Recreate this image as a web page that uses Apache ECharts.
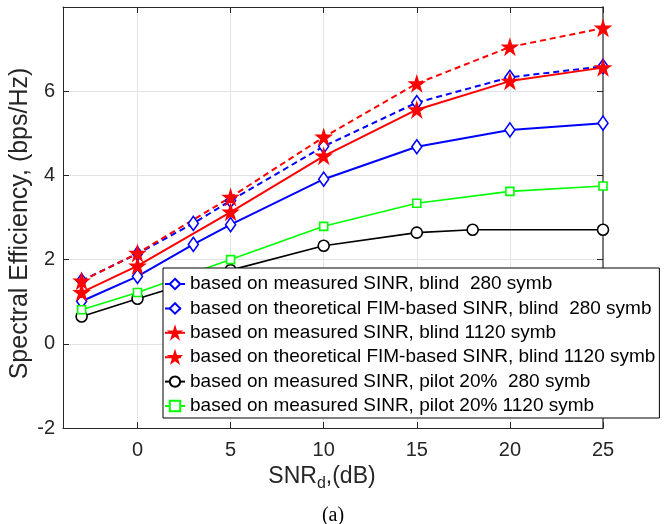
<!DOCTYPE html>
<html><head><meta charset="utf-8">
<script src="https://cdn.jsdelivr.net/npm/echarts@6/dist/echarts.min.js"></script>
<style>html,body{margin:0;padding:0;background:#fff}#c{width:666px;height:524px}</style>
</head><body><div id="c"></div>
<script>
var xTicks = [0, 5, 10, 15, 20, 25];
var yTicks = [-2, 0, 2, 4, 6];
var xBlue = [-3, 0, 3, 5, 10, 15, 20, 25];
var xRed = [-3, 0, 5, 10, 15, 20, 25];
var xBlack = [-3, 0, 5, 10, 15, 18, 25];
var xGreen = [-3, 0, 5, 10, 15, 20, 25];
var blueMeasured = [1.01, 1.60, 2.36, 2.83, 3.91, 4.68, 5.08, 5.24];
var blueTheoretical = [1.50, 2.14, 2.86, 3.40, 4.69, 5.73, 6.33, 6.59];
var redMeasured = [1.22, 1.85, 3.13, 4.46, 5.56, 6.24, 6.56];
var redTheoretical = [1.49, 2.15, 3.48, 4.91, 6.18, 7.05, 7.50];
var blackPilot = [0.65, 1.07, 1.75, 2.33, 2.64, 2.71, 2.71];
var greenPilot = [0.81, 1.22, 2.00, 2.79, 3.34, 3.62, 3.75];
var names = [
  'based on measured SINR, blind  280 symb',
  'based on theoretical FIM-based SINR, blind  280 symb',
  'based on measured SINR, blind 1120 symb',
  'based on theoretical FIM-based SINR, blind 1120 symb',
  'based on measured SINR, pilot 20%  280 symb',
  'based on measured SINR, pilot 20% 1120 symb'
];
function pairs(xs, ys) { return xs.map(function (x, i) { return [x, ys[i]]; }); }
var star = 'path://M50,0 L61.8,36.2 L100,36.2 L69.1,58.8 L80.9,95.1 L50,72.7 L19.1,95.1 L30.9,58.8 L0,36.2 L38.2,36.2 Z';
var font = 'Liberation Sans, Arial, Helvetica, sans-serif';
var axisCol = '#262626';
function mk(name, xs, ys, color, dashed, symbol, size, width, filled) {
  return {
    name: name, type: 'line', data: pairs(xs, ys),
    symbol: symbol, symbolSize: size, showSymbol: true,
    lineStyle: { color: color, width: width, type: dashed ? [6, 4] : 'solid' },
    itemStyle: { color: filled ? color : '#fff', borderColor: color, borderWidth: 1.6 },
    emphasis: { disabled: true }, animation: false
  };
}
var chart = echarts.init(document.getElementById('c'));
chart.setOption({
  backgroundColor: '#fff',
  animation: false,
  title: { text: '(a)', left: 'center', top: 506, padding: [0, 3, 0, 0], textStyle: { fontFamily: 'Liberation Serif, Times New Roman, serif', fontSize: 20, fontWeight: 'normal', color: '#000' } },
  grid: { left: 63, right: 63, top: 7, bottom: 96, containLabel: false, outerBoundsMode: 'none' },
  xAxis: [{
    type: 'value', min: -4, max: 25,
    name: 'SNR{sub|d},(dB)', nameLocation: 'middle', nameGap: 30,
    nameTextStyle: { fontFamily: font, fontSize: 23, color: axisCol, padding: [0, 22, 0, 0], rich: { sub: { fontSize: 16, verticalAlign: 'bottom', padding: [14, 0, 0, 0], fontFamily: font, color: axisCol } } },
    axisLine: { show: true, onZero: false, lineStyle: { color: axisCol, width: 1 } },
    axisTick: { show: true, inside: true, length: 6, customValues: xTicks, lineStyle: { color: axisCol } },
    axisLabel: { customValues: xTicks, fontFamily: font, fontSize: 20, color: axisCol, margin: 12 },
    splitLine: { show: true, lineStyle: { color: '#e3e3e3', width: 1 } }
  }, {
    type: 'value', min: -4, max: 25, position: 'top',
    axisLine: { show: true, onZero: false, lineStyle: { color: axisCol, width: 1 } },
    axisTick: { show: true, inside: true, length: 6, customValues: xTicks, lineStyle: { color: axisCol } },
    axisLabel: { show: false }, splitLine: { show: false }
  }],
  yAxis: [{
    type: 'value', min: -2, max: 8, interval: 2,
    name: 'Spectral Efficiency, (bps/Hz)', nameLocation: 'middle', nameGap: 30, nameMoveOverlap: false,
    nameTextStyle: { fontFamily: font, fontSize: 25, color: axisCol, padding: [0, 12, 0, 0] },
    axisLine: { show: true, onZero: false, lineStyle: { color: axisCol, width: 1 } },
    axisTick: { show: true, inside: true, length: 6, customValues: yTicks, lineStyle: { color: axisCol } },
    axisLabel: { customValues: yTicks, fontFamily: font, fontSize: 20, color: axisCol, margin: 8 },
    splitLine: { show: true, lineStyle: { color: '#e3e3e3', width: 1 } }
  }, {
    type: 'value', min: -2, max: 8, interval: 2, position: 'right',
    axisLine: { show: true, onZero: false, lineStyle: { color: '#7a7a7a', width: 2 } },
    axisTick: { show: true, inside: true, length: 6, customValues: yTicks, lineStyle: { color: axisCol } },
    axisLabel: { show: false }, splitLine: { show: false }
  }],
  legend: {
    orient: 'vertical', left: 163, top: 268,
    padding: [5, 4, 1, 1], itemGap: 2.4, itemWidth: 20, itemHeight: 13,
    backgroundColor: '#fff', borderColor: '#000', borderWidth: 1, borderRadius: 0,
    textStyle: { fontFamily: font, fontSize: 19, lineHeight: 22, color: '#000' },
    data: names
  },
  series: [
    mk(names[0], xBlue, blueMeasured, '#0000ff', false, 'diamond', [10, 14], 2, false),
    mk(names[1], xBlue, blueTheoretical, '#0000ff', true, 'diamond', [10, 14], 2, false),
    mk(names[2], xRed, redMeasured, '#ff0000', false, star, 14, 2, true),
    mk(names[3], xRed, redTheoretical, '#ff0000', true, star, 14, 2, true),
    mk(names[4], xBlack, blackPilot, '#000000', false, 'circle', 11, 1.6, false),
    mk(names[5], xGreen, greenPilot, '#00ff00', false, 'rect', 8, 1.6, false)
  ]
});
</script></body></html>
